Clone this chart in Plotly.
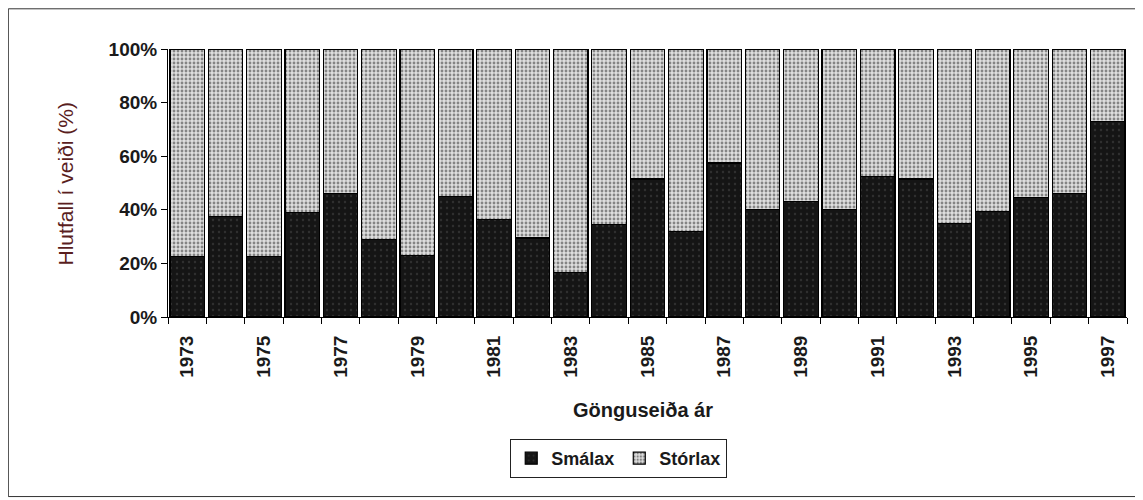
import plotly.graph_objects as go

years = list(range(1973, 1998))
smalax = [22.5, 37.5, 22.5, 39, 46, 29, 23, 45, 36.5, 29.5, 16.5, 34.5, 51.5, 32,
          57.5, 40, 43, 40, 52.5, 51.5, 35, 39.5, 44.5, 46, 73]
storlax = [100 - v for v in smalax]
tick_years = list(range(1973, 1998, 2))
y_ticks = [0, 20, 40, 60, 80, 100]
y_ticktext = [f"{v}%" for v in y_ticks]

FONT = "Arial, Liberation Sans, sans-serif"

fig = go.Figure()
fig.add_trace(go.Bar(
    x=years, y=smalax, name="Smálax",
    marker=dict(color="#151515", line=dict(color="#000", width=1.2),
                pattern=dict(shape=".", fgcolor="#4a4a4a", bgcolor="#151515", size=6, solidity=0.12)),
))
fig.add_trace(go.Bar(
    x=years, y=storlax, name="Stórlax",
    marker=dict(color="#c8c8c8", line=dict(color="#000", width=1.2),
                pattern=dict(shape=".", fgcolor="#2a2a2a", bgcolor="#dedede", size=4, solidity=0.4)),
))

fig.update_layout(
    barmode="stack", bargap=0.1,
    width=1135, height=492,
    margin=dict(l=160, r=16, t=41, b=183),
    paper_bgcolor="white", plot_bgcolor="white",
    font=dict(family=FONT, size=18, color="#1a1a1a"),
    showlegend=True,
    legend=dict(orientation="h", x=0.470, xanchor="center", y=-0.455, yanchor="top",
                bordercolor="#222", borderwidth=1, bgcolor="white",
                font=dict(family=FONT, size=18, color="#1a1a1a", weight="bold"),
                itemwidth=30, traceorder="normal"),
)
fig.update_xaxes(
    range=[1972.5, 1997.5], tickmode="array", tickvals=tick_years,
    ticktext=[str(y) for y in tick_years], tickangle=-90,
    tickfont=dict(family=FONT, size=19, weight="bold", color="#1a1a1a"),
    ticks="outside", ticklen=10, tickcolor="rgba(0,0,0,0)", showgrid=False, zeroline=False,
    showline=True, linecolor="#000", linewidth=1,
    minor=dict(ticks="outside", tick0=1972.5, dtick=1, ticklen=6, tickcolor="#000", showgrid=False),
)
fig.update_yaxes(
    range=[0, 100], tickmode="array", tickvals=y_ticks, ticktext=y_ticktext,
    tickfont=dict(family=FONT, size=19, weight="bold", color="#1a1a1a"),
    ticks="outside", ticklen=6, tickcolor="#000", showgrid=False, zeroline=False,
    showline=True, linecolor="#000", linewidth=1,
)

fig.add_annotation(text="Gönguseiða ár", xref="paper", yref="paper", x=0.495, y=-0.347,
                   showarrow=False, xanchor="center", yanchor="middle",
                   font=dict(family=FONT, size=20, weight="bold", color="#1a1a1a"))
fig.add_annotation(text="Hlutfall í veiði (%)", xref="paper", yref="paper", x=-0.107, y=0.496,
                   textangle=-90, showarrow=False, xanchor="center", yanchor="middle",
                   font=dict(family=FONT, size=21, color="#5a1e1e"))
fig.add_shape(type="rect", xref="paper", yref="paper", x0=-0.1665, x1=1.0135, y0=-0.67, y1=1.15,
              line=dict(color="#333", width=1))

fig.write_html("out.html")
